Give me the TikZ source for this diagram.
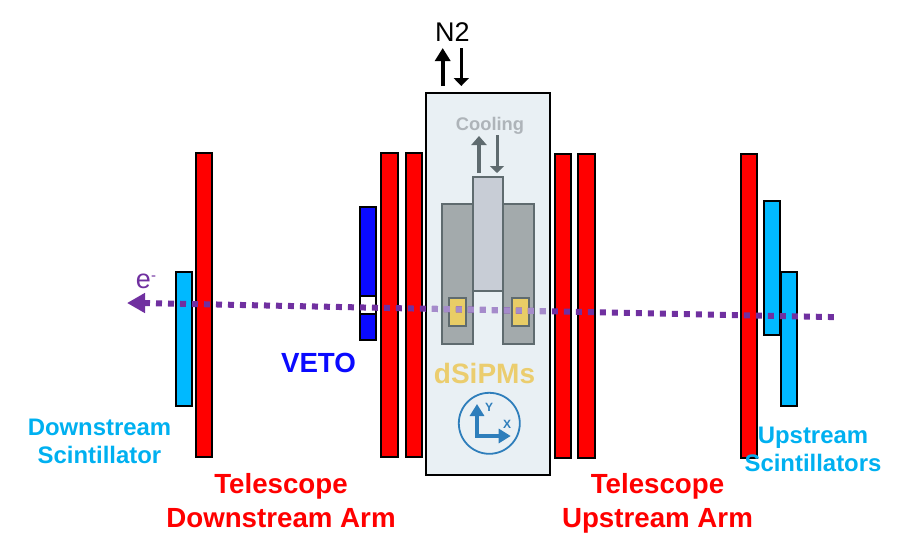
\documentclass[tikz,border=0pt]{standalone}
\usepackage{fontspec}
\setmainfont{Liberation Sans}
\usetikzlibrary{arrows.meta}
\definecolor{telered}{HTML}{FF0000}
\definecolor{scicyan}{HTML}{00B9FF}
\definecolor{scitext}{HTML}{00B0F0}
\definecolor{vetoblue}{HTML}{0A0AFF}
\definecolor{cryobg}{HTML}{E9F0F4}
\definecolor{cryoline}{HTML}{5F6B6F}
\definecolor{coldgray}{HTML}{A3AAAC}
\definecolor{fingergray}{HTML}{C8CDD6}
\definecolor{sipm}{HTML}{E9CD66}
\definecolor{sipmtext}{HTML}{EBCD6E}
\definecolor{cooltext}{HTML}{AEB4B9}
\definecolor{beam}{HTML}{7030A0}
\definecolor{beamlight}{HTML}{A58BCB}
\definecolor{iconblue}{HTML}{2E7EBB}
\newcommand\pb[6]{\node[#2,minimum width={(#5-#3)*1pt},minimum height={(#6-#4)*1pt}] (#1) at ({(#3+#5)/2},{(#4+#6)/2}) {};}
\tikzset{
  plate/.style={draw=black,line width=2pt,inner sep=0pt,outer sep=0pt},
  redplate/.style={plate,fill=telered},
  cyanplate/.style={plate,fill=scicyan},
  blueplate/.style={plate,fill=vetoblue},
  windowplate/.style={plate,fill=white},
  cryobox/.style={draw=black,line width=1.6pt,fill=cryobg,inner sep=0pt,outer sep=0pt},
  cold/.style={draw=cryoline,line width=2pt,fill=coldgray,inner sep=0pt,outer sep=0pt},
  finger/.style={draw=cryoline,line width=2pt,fill=fingergray,inner sep=0pt,outer sep=0pt},
  sensor/.style={draw=cryoline,line width=2pt,fill=sipm,inner sep=0pt,outer sep=0pt},
  label/.style={font=\bfseries\fontsize{27.7}{34}\selectfont,align=center,inner sep=0pt},
  redlabel/.style={label,text=telered},
  scilabel/.style={font=\bfseries\fontsize{23.9}{28.5}\selectfont,align=center,inner sep=0pt,text=scitext},
  thickup/.style={-{Triangle[length=13pt,width=15pt]},line width=4pt},
  thindown/.style={-{Triangle[length=8pt,width=15pt]},line width=3pt},
  beamdots/.style={line width=6pt,dash pattern=on 6pt off 6pt},
}
\begin{document}
\begin{tikzpicture}[x=1pt,y=-1pt]
\useasboundingbox (0,0) rectangle (899,533);
% telescope planes
\pb{rA}{redplate}{196}{153}{212}{457}
\pb{rB}{redplate}{381}{153}{398}{457}
\pb{rC}{redplate}{406}{153}{422}{457}
\pb{rD}{redplate}{555}{154}{571}{458}
\pb{rE}{redplate}{578}{154}{595}{458}
\pb{rF}{redplate}{741}{154}{757}{458}
% scintillators
\pb{cA}{cyanplate}{176}{272}{192}{406}
\pb{cB}{cyanplate}{764}{201}{780}{335}
\pb{cC}{cyanplate}{781}{272}{797}{406}
% veto
\pb{veto}{blueplate}{360}{207}{376}{340}
\pb{vetowin}{windowplate}{360}{296}{376}{314}
% cryostat
\pb{box}{cryobox}{426}{93}{550}{475}
\pb{gL}{cold}{442}{204}{472.5}{344}
\pb{gR}{cold}{503}{204}{533.5}{344}
\pb{fing}{finger}{472.5}{177}{503}{290.5}
\pb{yL}{sensor}{449}{298}{466}{326}
\pb{yR}{sensor}{512}{298}{528.5}{326}
% N2 and cooling
\node[font=\fontsize{27}{30}\selectfont,inner sep=0pt] (n2) at (452.5,32) {N2};
\coordinate (n2upS) at (442.7,86); \coordinate (n2upE) at (442.7,48);
\coordinate (n2dnS) at (461.3,48); \coordinate (n2dnE) at (461.3,86);
\draw[thickup] (n2upS) -- (n2upE);
\draw[thindown] (n2dnS) -- (n2dnE);
\node[font=\bfseries\fontsize{18.3}{22}\selectfont,text=cooltext,inner sep=0pt] (cool) at (490,126) {Cooling};
\coordinate (cupS) at (479,173); \coordinate (cupE) at (479,136);
\coordinate (cdnS) at (497,135); \coordinate (cdnE) at (497,173);
\draw[-{Triangle[length=9pt,width=15pt]},line width=4pt,draw=cryoline,fill=cryoline] (cupS) -- (cupE);
\draw[-{Triangle[length=7pt,width=14pt]},line width=3pt,draw=cryoline,fill=cryoline] (cdnS) -- (cdnE);
% beam
\coordinate (beamL) at (144,303); \coordinate (beamR) at (834,317.1); \coordinate (tip) at (127,303);
\draw[beam,beamdots] (beamL) -- (beamR);
\begin{scope}
\clip (box.south west) rectangle (box.north east);
\draw[beamlight,beamdots] (beamL) -- (beamR);
\end{scope}
\draw[beam,line width=5.5pt,-{Triangle[length=18pt,width=19pt]}] (beamL) -- (tip);
\node[font=\fontsize{27}{30}\selectfont,text=beam,inner sep=0pt] (eminus) at (146,281) {e\raisebox{8pt}{\fontsize{15}{15}\selectfont -}};
% icon
\node[draw=iconblue,line width=1.8pt,circle,minimum size=61pt,inner sep=0pt,outer sep=0pt] (icon) at (489.3,423.3) {};
\coordinate (org) at (477,436); \coordinate (ytip) at (477,404); \coordinate (xtip) at (510.7,436);
\draw[iconblue,line width=3.5pt,-{Triangle[length=12pt,width=14pt]}] ([xshift=-1.75pt]org) -- (xtip);
\draw[iconblue,line width=3.5pt,-{Triangle[length=12pt,width=14pt]}] (org) -- (ytip);
\node[font=\bfseries\fontsize{12}{12}\selectfont,text=iconblue,inner sep=0pt] (ylab) at (489,407) {Y};
\node[font=\bfseries\fontsize{12}{12}\selectfont,text=iconblue,inner sep=0pt] (xlab) at (507,424) {X};
% labels
\node[label,text=sipmtext,font=\bfseries\fontsize{28}{30}\selectfont] (dsipm) at (484.5,373) {dSiPMs};
\node[label,text=vetoblue] (vetolab) at (318.5,363) {VETO};
\node[redlabel] (tdown) at (281,501) {Telescope\\Downstream Arm};
\node[redlabel] (tup) at (657.5,503) {Telescope\\Upstream Arm};
\node[scilabel] (dscint) at (99.5,441.5) {Downstream\\Scintillator};
\node[scilabel] (uscint) at (813,449.5) {Upstream\\Scintillators};
\end{tikzpicture}
\end{document}
